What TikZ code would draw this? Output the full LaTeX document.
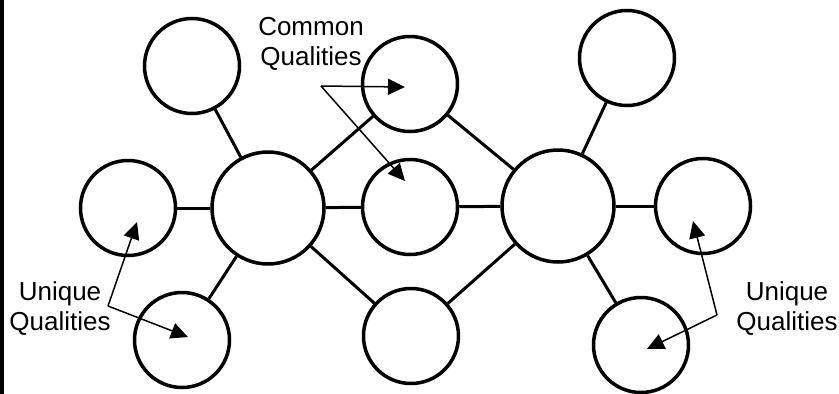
\documentclass[tikz,border=0pt]{standalone}
\usepackage{fontspec}
\setmainfont{Liberation Sans}
\usetikzlibrary{arrows.meta}
\begin{document}
\begin{tikzpicture}[x=1pt,y=-1pt,
  ball/.style={circle,draw,line width=3.5pt,inner sep=0pt,minimum size=#1},
  ball/.default=95pt,
  link/.style={line width=3pt},
  pointer/.style={line width=1.5pt,-{Triangle[length=17pt,width=16pt]}},
  lbl/.style={align=center,inner sep=0pt,anchor=north,font=\fontsize{26}{30}\selectfont}]
\useasboundingbox (0,0) rectangle (839,394);
\fill[white] (0,0) rectangle (839,394);
\fill[black] (0,0) rectangle (4,394);
% circles
\node[ball] (tl) at (192,66) {};
\node[ball] (l) at (128,208) {};
\node[ball=112pt] (bl0) at (268,208) {};
\node[ball] (bl) at (182,340) {};
\node[ball] (tc) at (410,84) {};
\node[ball] (c) at (410,207) {};
\node[ball] (bc) at (411,336) {};
\node[ball=112pt] (br0) at (558,206) {};
\node[ball] (tr) at (627,58) {};
\node[ball] (r) at (703,206) {};
\node[ball] (br) at (641,345) {};
% links
\draw[link] (tl) -- (bl0);
\draw[link] (l) -- (bl0);
\draw[link] (bl) -- (bl0);
\draw[link] (bl0) -- (tc);
\draw[link] (bl0) -- (c);
\draw[link] (bl0) -- (bc);
\draw[link] (tc) -- (br0);
\draw[link] (c) -- (br0);
\draw[link] (bc) -- (br0);
\draw[link] (br0) -- (tr);
\draw[link] (br0) -- (r);
\draw[link] (br0) -- (br);
% labels
\node[lbl] (common) at (311,17) {Common\\Qualities};
\node[lbl] (uniqueL) at (60,281) {Unique\\Qualities};
\node[lbl] (uniqueR) at (787,281) {Unique\\Qualities};
% pointers
\coordinate (cq) at (321,86);
\coordinate (cqa) at (405,87);
\coordinate (cqb) at (405,181);
\draw[pointer] (cq) -- (cqa);
\draw[pointer] (cq) -- (cqb);
\coordinate (uql) at (108,306);
\coordinate (uqla) at (137,222);
\coordinate (uqlb) at (188,337);
\draw[pointer] (uql) -- (uqla);
\draw[pointer] (uql) -- (uqlb);
\coordinate (uqr) at (717,315);
\coordinate (uqra) at (693,221);
\coordinate (uqrb) at (647,349);
\draw[pointer] (uqr) -- (uqra);
\draw[pointer] (uqr) -- (uqrb);
\end{tikzpicture}
\end{document}
